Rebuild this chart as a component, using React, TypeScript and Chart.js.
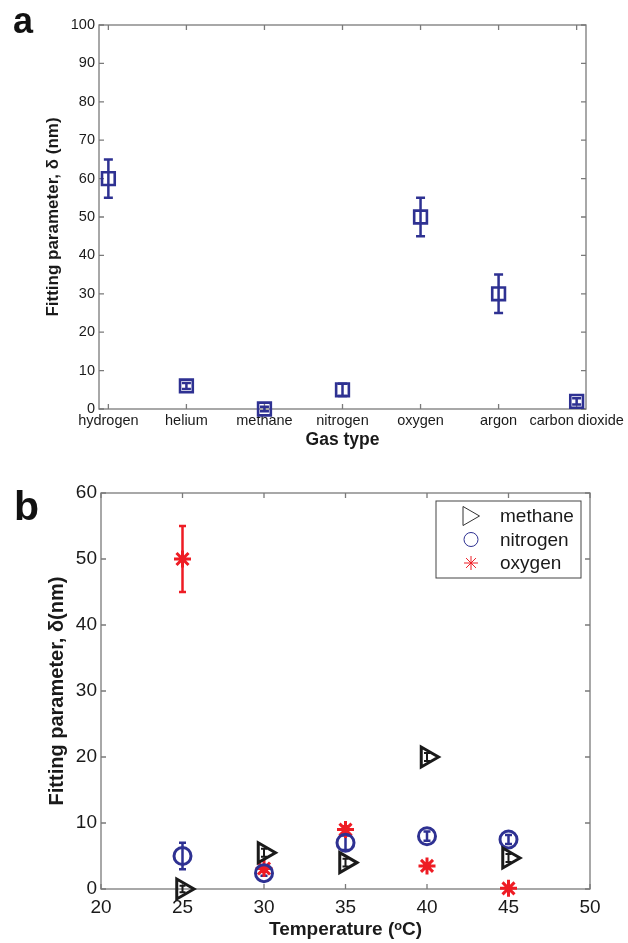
import React, { useEffect, useRef } from 'react';
import { Chart, registerables } from 'chart.js';
import { drawPoint } from 'chart.js/helpers';

Chart.register(...registerables);

// ---------- Panel a data ----------
const gasTypes = ['hydrogen', 'helium', 'methane', 'nitrogen', 'oxygen', 'argon', 'carbon dioxide'];
const gasDelta = [60, 6, 0, 5, 50, 30, 2];
const gasErr = [5, 0.8, 0.6, 1.6, 5, 5, 0.8];
const yTicksA = [0, 10, 20, 30, 40, 50, 60, 70, 80, 90, 100];

// ---------- Panel b data ----------
const temperatures = [25, 30, 35, 40, 45];
const methaneDelta = [0, 5.5, 4, 20, 4.7];
const methaneErr = [0.5, 0.6, 0.6, 0.6, 0.6];
const nitrogenDelta = [5, 2.4, 7, 8, 7.5];
const nitrogenErr = [2, 0.4, 1.1, 0.7, 0.7];
const oxygenDelta = [50, 3.1, 9, 3.5, 0.1];
const oxygenErr = [5, 0.5, 0.5, 0.3, 0.3];
const xTicksB = [20, 25, 30, 35, 40, 45, 50];
const yTicksB = [0, 10, 20, 30, 40, 50, 60];
const legendLabels = ['methane', 'nitrogen', 'oxygen'];

const FONT = 'Liberation Sans, Arial, Helvetica, sans-serif';
const BLUE = '#2e3192';
const RED = '#ee1c24';
const BLACK = '#1a1a1a';
const TEXT = '#1a1a1a';
const AXIS = '#7a7a7a';

const framePlugin = {
  id: 'frame',
  beforeDatasetsDraw(chart: any) {
    const { ctx, chartArea } = chart;
    const { left, right, top, bottom } = chartArea;
    const xs = chart.scales.x;
    const ys = chart.scales.y;
    const L = 5;
    ctx.save();
    ctx.strokeStyle = AXIS;
    ctx.lineWidth = 1.3;
    ctx.beginPath();
    xs.ticks.forEach((t: any) => {
      const x = xs.getPixelForValue(t.value);
      ctx.moveTo(x, bottom);
      ctx.lineTo(x, bottom - L);
      ctx.moveTo(x, top);
      ctx.lineTo(x, top + L);
    });
    ys.ticks.forEach((t: any) => {
      const y = ys.getPixelForValue(t.value);
      ctx.moveTo(left, y);
      ctx.lineTo(left + L, y);
      ctx.moveTo(right, y);
      ctx.lineTo(right - L, y);
    });
    ctx.stroke();
    ctx.strokeRect(left, top, right - left, bottom - top);
    ctx.restore();
  },
};

const errorBarPlugin = {
  id: 'errorBars',
  beforeDatasetsDraw(chart: any) {
    const { ctx } = chart;
    const xs = chart.scales.x;
    const ys = chart.scales.y;
    chart.data.datasets.forEach((ds: any) => {
      if (!ds.errors) return;
      ctx.save();
      ctx.strokeStyle = ds.pointBorderColor;
      ctx.lineWidth = ds.errWidth || 2.5;
      ctx.lineCap = 'butt';
      ds.data.forEach((p: any, i: number) => {
        const e = ds.errors[i];
        const x = xs.getPixelForValue(p.x);
        const y1 = ys.getPixelForValue(p.y - e);
        const y2 = ys.getPixelForValue(p.y + e);
        const w = ds.capHalf || 4;
        ctx.beginPath();
        ctx.moveTo(x, y1);
        ctx.lineTo(x, y2);
        ctx.moveTo(x - w, y1);
        ctx.lineTo(x + w, y1);
        ctx.moveTo(x - w, y2);
        ctx.lineTo(x + w, y2);
        ctx.stroke();
      });
      ctx.restore();
    });
  },
};

function panelLabel(text: string, x: number, y: number, size: number) {
  return {
    id: 'panelLabel' + text,
    afterDraw(chart: any) {
      const { ctx } = chart;
      ctx.save();
      ctx.fillStyle = '#111';
      ctx.font = `bold ${size}px ${FONT}`;
      ctx.textAlign = 'left';
      ctx.textBaseline = 'alphabetic';
      ctx.fillText(text, x, y);
      ctx.restore();
    },
  };
}

const legendPlugin = {
  id: 'boxLegend',
  afterDraw(chart: any) {
    const { ctx } = chart;
    const area = chart.chartArea;
    const boxRight = area.right - 9;
    const boxLeft = boxRight - 145;
    const boxTop = area.top + 8;
    const boxBottom = boxTop + 77;
    ctx.save();
    ctx.fillStyle = '#fff';
    ctx.fillRect(boxLeft, boxTop, boxRight - boxLeft, boxBottom - boxTop);
    ctx.strokeStyle = '#444';
    ctx.lineWidth = 1;
    ctx.strokeRect(boxLeft, boxTop, boxRight - boxLeft, boxBottom - boxTop);
    const styles = [
      { pointStyle: 'triangle', rotation: 90, radius: 11, borderWidth: 1.3, color: '#333', dx: -2.5 },
      { pointStyle: 'circle', rotation: 0, radius: 7, borderWidth: 1.3, color: BLUE, dx: 0 },
      { pointStyle: 'star', rotation: 0, radius: 7, borderWidth: 1.3, color: RED, dx: 0 },
    ];
    legendLabels.forEach((lab, i) => {
      const y = boxTop + 15 + i * 23.5;
      const s = styles[i];
      ctx.strokeStyle = s.color;
      ctx.fillStyle = 'rgba(0,0,0,0)';
      drawPoint(ctx, { pointStyle: s.pointStyle, rotation: s.rotation, radius: s.radius, borderWidth: s.borderWidth } as any, boxLeft + 35 + s.dx, y);
      ctx.fillStyle = TEXT;
      ctx.font = `19px ${FONT}`;
      ctx.textAlign = 'left';
      ctx.textBaseline = 'middle';
      ctx.fillText(lab, boxLeft + 64, y + 1);
    });
    ctx.restore();
  },
};

function baseAxis(extra: any) {
  return {
    grid: { display: false, drawTicks: false },
    border: { display: false },
    ...extra,
  };
}

export default function App() {
  const refA = useRef<HTMLCanvasElement>(null);
  const refB = useRef<HTMLCanvasElement>(null);

  useEffect(() => {
    document.body.style.margin = '0';
    const chartA = new Chart(refA.current as HTMLCanvasElement, {
      type: 'scatter',
      data: {
        datasets: [
          {
            data: gasDelta.map((v, i) => ({ x: i + 1, y: v })),
            errors: gasErr,
            capHalf: 4.5,
            errWidth: 2.5,
            pointStyle: 'rect',
            pointRadius: 9,
            pointHoverRadius: 9,
            pointBorderWidth: 2.6,
            pointBorderColor: BLUE,
            pointBackgroundColor: 'rgba(0,0,0,0)',
            showLine: false,
            clip: false,
          } as any,
        ],
      },
      options: {
        animation: false,
        responsive: false,
        events: [],
        layout: { padding: { top: 25, right: 42, bottom: 0, left: 0 } },
        plugins: { legend: { display: false }, tooltip: { enabled: false } },
        scales: {
          x: baseAxis({
            type: 'linear',
            min: 0.88,
            max: 7.12,
            afterBuildTicks: (s: any) => {
              s.ticks = gasTypes.map((_, i) => ({ value: i + 1 }));
            },
            ticks: {
              autoSkip: false,
              maxRotation: 0,
              minRotation: 0,
              padding: 3,
              color: TEXT,
              font: { family: FONT, size: 14.5 },
              callback: (v: any) => gasTypes[Math.round(v) - 1] ?? '',
            },
            title: {
              display: true,
              text: 'Gas type',
              color: TEXT,
              font: { family: FONT, size: 17.5, weight: 'bold' },
              padding: { top: 0, bottom: 9.5 },
            },
            afterFit: (s: any) => {
              s.height = 51;
              s.paddingLeft = 0;
              s.paddingRight = 0;
            },
          }),
          y: baseAxis({
            min: 0,
            max: 100,
            afterBuildTicks: (s: any) => {
              s.ticks = yTicksA.map((v) => ({ value: v }));
            },
            ticks: {
              padding: 4,
              color: TEXT,
              font: { family: FONT, size: 14.5 },
            },
            title: {
              display: true,
              text: 'Fitting parameter, δ (nm)',
              color: TEXT,
              font: { family: FONT, size: 17, weight: 'bold' },
              padding: { top: 43, bottom: 0 },
            },
            afterFit: (s: any) => {
              s.width = 99;
              s.paddingTop = 0;
              s.paddingBottom = 0;
            },
          }),
        },
      } as any,
      plugins: [framePlugin, errorBarPlugin, panelLabel('a', 13, 33, 36)],
    });

    const mk = (vals: number[], errs: number[], style: any) => ({
      data: vals.map((v, i) => ({ x: temperatures[i], y: v })),
      errors: errs,
      showLine: false,
      clip: false,
      pointBackgroundColor: 'rgba(0,0,0,0)',
      ...style,
    });

    const chartB = new Chart(refB.current as HTMLCanvasElement, {
      type: 'scatter',
      data: {
        datasets: [
          mk(methaneDelta, methaneErr, {
            label: legendLabels[0],
            pointStyle: 'triangle',
            pointRotation: 90,
            pointRadius: 11.5,
            pointHoverRadius: 11.5,
            pointBorderWidth: 3,
            pointBorderColor: BLACK,
            capHalf: 3,
            errWidth: 2,
          }),
          mk(nitrogenDelta, nitrogenErr, {
            label: legendLabels[1],
            pointStyle: 'circle',
            pointRadius: 8.5,
            pointHoverRadius: 8.5,
            pointBorderWidth: 3,
            pointBorderColor: BLUE,
            capHalf: 3.5,
            errWidth: 2.5,
          }),
          mk(oxygenDelta, oxygenErr, {
            label: legendLabels[2],
            pointStyle: 'star',
            pointRadius: 8.5,
            pointHoverRadius: 8.5,
            pointBorderWidth: 3,
            pointBorderColor: RED,
            capHalf: 3.5,
            errWidth: 2.5,
          }),
        ] as any,
      },
      options: {
        animation: false,
        responsive: false,
        events: [],
        layout: { padding: { top: 38, right: 38, bottom: 0, left: 0 } },
        plugins: { legend: { display: false }, tooltip: { enabled: false } },
        scales: {
          x: baseAxis({
            type: 'linear',
            min: 20,
            max: 50,
            afterBuildTicks: (s: any) => {
              s.ticks = xTicksB.map((v) => ({ value: v }));
            },
            ticks: {
              autoSkip: false,
              maxRotation: 0,
              minRotation: 0,
              padding: 7,
              color: TEXT,
              font: { family: FONT, size: 19 },
            },
            title: {
              display: true,
              text: 'Temperature (ᵒC)',
              color: TEXT,
              font: { family: FONT, size: 19, weight: 'bold' },
              padding: { top: 0, bottom: 2 },
            },
            afterFit: (s: any) => {
              s.height = 54;
              s.paddingLeft = 0;
              s.paddingRight = 0;
            },
          }),
          y: baseAxis({
            min: 0,
            max: 60,
            afterBuildTicks: (s: any) => {
              s.ticks = yTicksB.map((v) => ({ value: v }));
            },
            ticks: {
              padding: 4,
              color: TEXT,
              font: { family: FONT, size: 19 },
            },
            title: {
              display: true,
              text: 'Fitting parameter, δ(nm)',
              color: TEXT,
              font: { family: FONT, size: 20, weight: 'bold' },
              padding: { top: 45, bottom: 0 },
            },
            afterFit: (s: any) => {
              s.width = 101;
              s.paddingTop = 0;
              s.paddingBottom = 0;
            },
          }),
        },
      } as any,
      plugins: [framePlugin, errorBarPlugin, legendPlugin, panelLabel('b', 14, 65, 41)],
    });

    return () => {
      chartA.destroy();
      chartB.destroy();
    };
  }, []);

  return (
    <div style={{ position: 'relative', width: 628, height: 943, background: '#fff', overflow: 'hidden' }}>
      <canvas ref={refA} width={628} height={460} style={{ position: 'absolute', left: 0, top: 0 }} />
      <canvas ref={refB} width={628} height={488} style={{ position: 'absolute', left: 0, top: 455 }} />
    </div>
  );
}
